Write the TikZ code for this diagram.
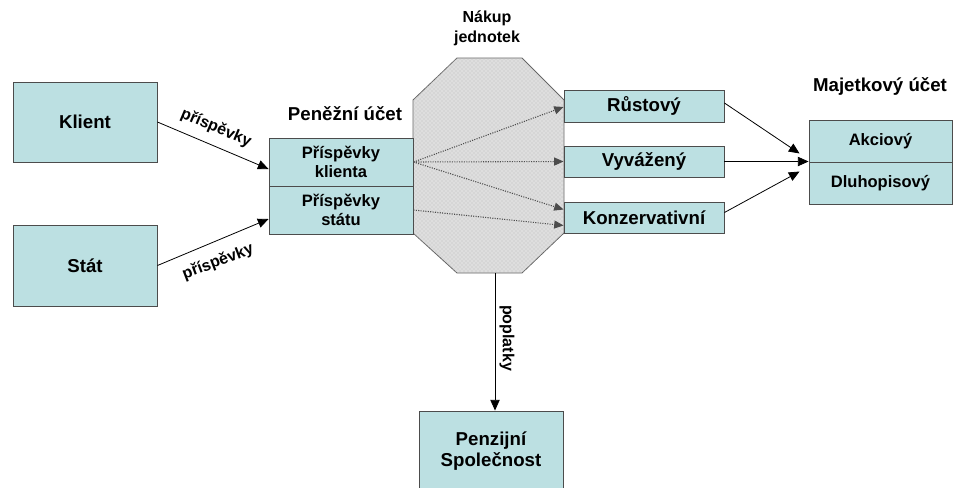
\documentclass[tikz,border=0pt]{standalone}
\usepackage{fontspec}
\setmainfont{Liberation Sans}
\usetikzlibrary{arrows.meta,calc,patterns}
\definecolor{boxfill}{RGB}{188,224,226}
\definecolor{octfill}{RGB}{222,222,222}
\tikzset{
  box/.style={draw=black!70, fill=boxfill, line width=0.7pt, inner sep=0pt, font=\bfseries\fontsize{14}{16}\selectfont, align=center},
  smallbox/.style={box, font=\bfseries\fontsize{12.4}{14}\selectfont},
  lbl/.style={font=\bfseries\fontsize{14}{16}\selectfont, align=center},
  arrlbl/.style={font=\bfseries\fontsize{12}{14}\selectfont, inner sep=1pt},
  conn/.style={line width=0.6pt, -{Triangle[length=8pt,width=7pt]}},
  inner/.style={densely dotted, line width=0.8pt, draw=black!70, -{Triangle[length=7pt,width=6pt]}}
}
\begin{document}
\begin{tikzpicture}[x=0.75pt,y=-0.75pt]
\useasboundingbox (0,0) rectangle (953,487);
% octagon
\path[fill=octfill, draw=black!60, line width=0.6pt]
  (457,58) -- (522,58) -- (564,100) -- (564,233) -- (522,273) -- (457,273) -- (413,233) -- (413,100) -- cycle;
\path[pattern=crosshatch dots, pattern color=black!25]
  (457,58) -- (522,58) -- (564,100) -- (564,233) -- (522,273) -- (457,273) -- (413,233) -- (413,100) -- cycle;
\coordinate (octbot) at (495,273);

% left boxes
\node[box, minimum width=144*0.75pt, minimum height=80*0.75pt] (klient) at (85,122) {Klient};
\node[box, minimum width=144*0.75pt, minimum height=81*0.75pt] (stat) at (85,265.5) {Stát};
\node[smallbox, minimum width=144*0.75pt, minimum height=48*0.75pt] (pk) at (341,162) {Příspěvky\\klienta};
\node[smallbox, minimum width=144*0.75pt, minimum height=48*0.75pt] (ps) at (341,210) {Příspěvky\\státu};
\node[lbl] (penlbl) at (345,114) {Peněžní účet};
\node[lbl, font=\bfseries\fontsize{12}{15}\selectfont] (nakup) at (487,28) {Nákup\\jednotek};

% right boxes
\node[box, minimum width=160*0.75pt, minimum height=32*0.75pt] (rust) at (644,106) {Růstový};
\node[box, minimum width=160*0.75pt, minimum height=31*0.75pt] (vyv) at (644,161.5) {Vyvážený};
\node[box, minimum width=160*0.75pt, minimum height=31*0.75pt] (konz) at (644,217.5) {Konzervativní};
\node[smallbox, minimum width=143*0.75pt, minimum height=42*0.75pt] (akc) at (880.5,141) {Akciový};
\node[smallbox, minimum width=143*0.75pt, minimum height=42*0.75pt] (dlu) at (880.5,183) {Dluhopisový};
\node[lbl] (majlbl) at (880,86) {Majetkový účet};

% bottom box
\node[box, minimum width=144*0.75pt, minimum height=80*0.75pt] (pen) at (491,451) {Penzijní\\Společnost};

% connectors
\draw[conn] (klient.east) -- ($(pk.west)+(0,7)$);
\node[arrlbl, rotate=-23] (lblk) at (216,128) {příspěvky};
\draw[conn] (stat.east) -- ($(ps.west)+(0,9)$);
\node[arrlbl, rotate=21] (lbls) at (218,262) {příspěvky};

\draw[inner] (pk.east) -- ($(rust.west)+(0,1)$);
\draw[inner] (pk.east) -- (vyv.west);
\draw[inner] (pk.east) -- ($(konz.west)+(0,-8)$);
\draw[inner] (ps.east) -- ($(konz.west)+(0,8)$);

\draw[conn] ($(rust.east)+(0,-3)$) -- ($(akc.south west)+(-9,-9)$);
\draw[conn] (vyv.east) -- (vyv.east -| akc.west);
\draw[conn] ($(konz.east)+(0,-5)$) -- ($(dlu.north west)+(-9,10)$);

\draw[conn] (octbot) -- (octbot |- pen.north);
\node[arrlbl, rotate=-90] (popl) at (507,338) {poplatky};
\end{tikzpicture}
\end{document}
